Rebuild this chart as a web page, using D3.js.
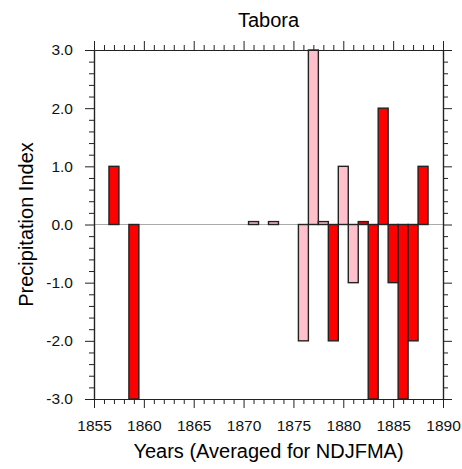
<!DOCTYPE html>
<html>
<head>
<meta charset="utf-8">
<script src="https://cdn.jsdelivr.net/npm/d3@7"></script>
<style>
  body { margin: 0; background: #fff; }
  svg { display: block; font-family: "Liberation Sans", Arial, Helvetica, sans-serif; }
  .axis path { stroke: #222; stroke-width: 1.2; }
  .axis line { stroke: #222; stroke-width: 1; }
  .axis text { font-size: 15.5px; fill: #111; }
</style>
</head>
<body>
<svg id="chart" width="462" height="469"></svg>
<script>
// Tabora precipitation index, one bar per year
let years  = [1857, 1859, 1871, 1873, 1876, 1877, 1878, 1879, 1880, 1881, 1882, 1883, 1884, 1885, 1886, 1887, 1888];
let values = [1.0, -3.0, 0.05, 0.05, -2.0, 3.0, 0.05, -2.0, 1.0, -1.0, 0.05, -3.0, 2.0, -1.0, -3.0, -2.0, 1.0];
// pink bars vs red bars
let kinds  = ["r", "r", "p", "p", "p", "p", "p", "r", "p", "p", "r", "r", "r", "r", "r", "r", "r"];

let xTicks = [1855, 1860, 1865, 1870, 1875, 1880, 1885, 1890];
let yTicks = [-3, -2, -1, 0, 1, 2, 3];

let pLeft = 94, pRight = 443, pTop = 50, pBottom = 399;

let svg = d3.select("#chart");

let x = d3.scaleLinear().domain([1855, 1890]).range([pLeft, pRight]);
let y = d3.scaleLinear().domain([-3, 3]).range([pBottom, pTop]);

let colorOf = (k) => k === "p" ? "#ffc0cb" : "#ff0000";

let minorX = d3.range(1855, 1891, 1).filter((v) => v % 5 !== 0);
let minorY = d3.range(-30, 31, 2).map((v) => v / 10).filter((v) => Math.abs(v % 1) > 0.01);

// zero line
svg.append("line")
  .attr("x1", pLeft).attr("x2", pRight)
  .attr("y1", y(0)).attr("y2", y(0))
  .attr("stroke", "#aaa").attr("stroke-width", 1);

// bars
let bw = x(1) - x(0);
svg.append("g")
  .selectAll("rect")
  .data(years)
  .enter()
  .append("rect")
  .attr("x", (d) => x(d) - bw / 2)
  .attr("width", bw)
  .attr("y", (d, i) => y(Math.max(0, values[i])))
  .attr("height", (d, i) => Math.abs(y(values[i]) - y(0)))
  .attr("fill", (d, i) => colorOf(kinds[i]))
  .attr("stroke", "#222")
  .attr("stroke-width", 1.4);

// axes: major + minor ticks on all four sides, pointing out
function drawAxis(axisFn, scale, major, minor, tr, withLabels, fmt) {
  svg.append("g").attr("class", "axis").attr("transform", tr)
    .call(axisFn(scale).tickValues(minor).tickSize(5).tickSizeOuter(0).tickFormat(""));
  let g = svg.append("g").attr("class", "axis").attr("transform", tr)
    .call(axisFn(scale).tickValues(major).tickSize(9).tickSizeOuter(0)
      .tickPadding(withLabels ? 12 : 0)
      .tickFormat(withLabels ? fmt : ""));
  return g;
}

// plain hyphen for negatives, like the original
let yFmt = (v) => d3.format(".1f")(v).replace("\u2212", "-");

drawAxis(d3.axisBottom, x, xTicks, minorX, "translate(0," + pBottom + ")", true, d3.format("d"));
drawAxis(d3.axisTop, x, xTicks, minorX, "translate(0," + pTop + ")", false);
drawAxis(d3.axisLeft, y, yTicks, minorY, "translate(" + pLeft + ",0)", true, yFmt);
drawAxis(d3.axisRight, y, yTicks, minorY, "translate(" + pRight + ",0)", false);

// titles
svg.append("text")
  .attr("x", (pLeft + pRight) / 2).attr("y", 27)
  .attr("text-anchor", "middle")
  .style("font-size", "20px")
  .text("Tabora");

svg.append("text")
  .attr("x", (pLeft + pRight) / 2).attr("y", 458)
  .attr("text-anchor", "middle")
  .style("font-size", "20px")
  .text("Years (Averaged for NDJFMA)");

svg.append("text")
  .attr("transform", "translate(33," + (pTop + pBottom) / 2 + ") rotate(-90)")
  .attr("text-anchor", "middle")
  .style("font-size", "20px")
  .text("Precipitation Index");
</script>
</body>
</html>
